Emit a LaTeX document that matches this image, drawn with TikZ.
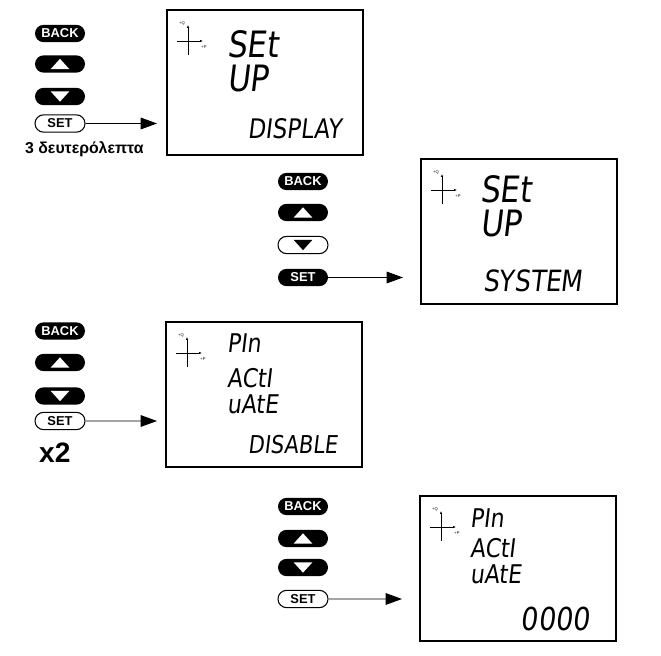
\documentclass[tikz,border=0pt]{standalone}
\usepackage{fontspec}
\setmainfont{Liberation Sans}
\newfontfamily\lcd[FakeStretch=0.85,FakeSlant=0.12]{DejaVu Sans}
\usetikzlibrary{shapes.misc,arrows.meta,positioning}

\begin{document}
\begin{tikzpicture}[
    x=0.03cm, y=-0.03cm,
    btn/.style={rounded rectangle, minimum width=1.5cm, minimum height=0.52cm, inner sep=0pt, font=\bfseries\fontsize{11}{11}\selectfont},
    onbtn/.style={btn, fill=black, text=white},
    offbtn/.style={btn, draw=black, line width=0.9pt, fill=white},
    uptri/.style={path picture={\fill[#1] ([shift={(-8pt,-4.4pt)}]path picture bounding box.center) -- ++(16pt,0pt) -- ++(-8pt,8.8pt) -- cycle;}},
    dntri/.style={path picture={\fill[#1] ([shift={(-8pt,4.4pt)}]path picture bounding box.center) -- ++(16pt,0pt) -- ++(-8pt,-8.8pt) -- cycle;}},
    screen/.style={rectangle, draw=black, line width=1.4pt, minimum width=5.88cm, minimum height=4.35cm, anchor=north west, inner sep=0pt},
    lcdtop/.style={font=\lcd\fontsize{#1}{#1}\selectfont, inner sep=0pt, anchor=north west},
    lcdlow/.style={font=\lcd\fontsize{#1}{#1}\selectfont, inner sep=0pt, anchor=north east},
    arr/.style={-{Triangle[length=14pt,width=10pt]}, line width=0.8pt},
    tiny/.style={font=\fontsize{3.5}{4}\selectfont, inner sep=0pt}
]
\useasboundingbox (0,0) rectangle (661,656);

\node[screen] (disp1) at (166,9) {};
\node[screen] (disp2) at (420,158) {};
\node[screen] (disp3) at (165,321) {};
\node[screen] (disp4) at (419,495) {};

\foreach \d in {disp1,disp2,disp3,disp4}{
  \draw[line width=0.6pt, -{Latex[length=2.5pt,width=2pt]}] ([shift={(22,46)}]\d.north west) -- ([shift={(22,16)}]\d.north west);
  \draw[line width=0.6pt, -{Latex[length=2.5pt,width=2pt]}] ([shift={(11,32)}]\d.north west) -- ([shift={(37,32)}]\d.north west);
  \node[tiny] (q\d) at ([shift={(16,14)}]\d.north west) {+Q};
  \node[tiny] (p\d) at ([shift={(38,38)}]\d.north west) {+P};
}

\node[onbtn] (back1) at (60,33.5) {BACK};
\node[onbtn, uptri=white] (up1) at (60,64) {};
\node[onbtn, dntri=white] (down1) at (60,96.5) {};
\node[offbtn] (set1) at (60,123.5) {SET};
\node[font=\bfseries\fontsize{13.5}{14}\selectfont, anchor=base west, inner sep=0pt] (hold) at (25,154) {3 δευτερόλεπτα};
\draw[arr, shorten >=0.27cm] (set1) -- (set1 -| disp1.west);
\node[lcdtop=31] (title1a) at ([shift={(61,21)}]disp1.north west) {SEt};
\node[lcdtop=31] (title1b) at ([shift={(61,56)}]disp1.north west) {UP};
\node[lcdlow=23] (mode1) at ([shift={(-22,109)}]disp1.north east) {DISPLAY};

\node[onbtn] (back2) at (303,181.5) {BACK};
\node[onbtn, uptri=white] (up2) at (303,212.5) {};
\node[offbtn, dntri=black] (down2) at (303,245) {};
\node[onbtn] (set2) at (303,277.5) {SET};
\draw[arr, shorten >=0.51cm] (set2) -- (set2 -| disp2.west);
\node[lcdtop=31] (title2a) at ([shift={(60,17)}]disp2.north west) {SEt};
\node[lcdtop=31] (title2b) at ([shift={(60,52)}]disp2.north west) {UP};
\node[lcdlow=25] (mode2) at ([shift={(-35,112)}]disp2.north east) {SYSTEM};

\node[onbtn] (back3) at (60,331) {BACK};
\node[onbtn, uptri=white] (up3) at (60,362.5) {};
\node[onbtn, dntri=white] (down3) at (60,396) {};
\node[offbtn] (set3) at (60,421) {SET};
\node[font=\bfseries\fontsize{24}{24}\selectfont, anchor=base west, inner sep=0pt] (twice) at (39,463) {x2};
\draw[arr, shorten >=0.24cm] (set3) -- (set3 -| disp3.west);
\node[lcdtop=22] (title3a) at ([shift={(62,12)}]disp3.north west) {PIn};
\node[lcdtop=22] (title3b) at ([shift={(62,47)}]disp3.north west) {ACtI};
\node[lcdtop=22] (title3c) at ([shift={(62,73)}]disp3.north west) {uAtE};
\node[lcdlow=21] (mode3) at ([shift={(-25,114)}]disp3.north east) {DISABLE};

\node[onbtn] (back4) at (303,506.5) {BACK};
\node[onbtn, uptri=white] (up4) at (303,538.5) {};
\node[onbtn, dntri=white] (down4) at (303,567.5) {};
\node[offbtn] (set4) at (303,599) {SET};
\draw[arr, shorten >=0.51cm] (set4) -- (set4 -| disp4.west);
\node[lcdtop=22] (title4a) at ([shift={(51,13)}]disp4.north west) {PIn};
\node[lcdtop=22] (title4b) at ([shift={(51,43)}]disp4.north west) {ACtI};
\node[lcdtop=22] (title4c) at ([shift={(51,69)}]disp4.north west) {uAtE};
\node[lcdlow=27] (mode4) at ([shift={(-27,112)}]disp4.north east) {0000};
\end{tikzpicture}
\end{document}
